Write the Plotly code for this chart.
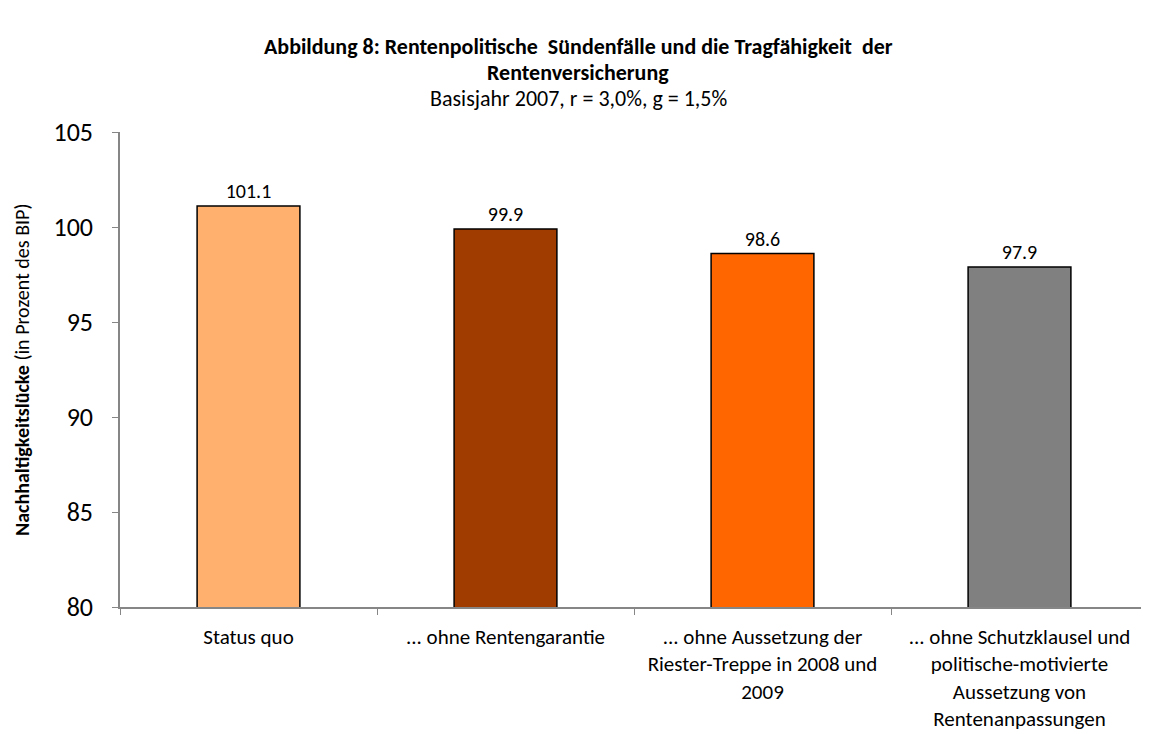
import plotly.graph_objects as go

categories = [
    "Status quo",
    "... ohne Rentengarantie",
    "... ohne Aussetzung der<br>Riester-Treppe in 2008 und<br>2009",
    "... ohne Schutzklausel und<br>politische-motivierte<br>Aussetzung von<br>Rentenanpassungen",
]
values = [101.1, 99.9, 98.6, 97.9]
labels = ["101.1", "99.9", "98.6", "97.9"]
colors = ["#FFB06E", "#A03C00", "#FF6600", "#808080"]
y_ticks = [80, 85, 90, 95, 100, 105]

FONT = "Carlito, Lato, sans-serif"

# page has an 8px body margin; figure sized to fit the window
OFF = 8
W, H = 1149 - OFF, 734 - OFF
L, R, T, B = 120 - OFF, 1, 132 - OFF, 127
PW, PH = W - L - R, H - T - B


def px(xpage):
    return (xpage - OFF - L) / PW


def py(ypage):
    return 1 - (ypage - OFF - T) / PH


fig = go.Figure()
fig.add_trace(go.Bar(
    x=categories,
    y=values,
    base=0,
    marker=dict(color=colors, line=dict(color="#000000", width=1.5)),
    width=0.4,
    text=labels,
    textposition="outside",
    textfont=dict(size=20, color="#000000", family=FONT),
    cliponaxis=False,
))

fig.update_layout(
    width=W, height=H,
    margin=dict(l=L, r=R, t=T, b=B),
    plot_bgcolor="white", paper_bgcolor="white",
    showlegend=False,
    font=dict(family=FONT, color="#000000"),
    xaxis=dict(
        showline=True, linecolor="#868686", linewidth=1.5,
        ticks="outside", tickson="boundaries", ticklen=6, tickcolor="#868686",
        tickfont=dict(size=21, family=FONT),
        ticklabelstandoff=10,
        showgrid=False,
    ),
    yaxis=dict(
        range=[80, 105], tickvals=y_ticks,
        showline=True, linecolor="#868686", linewidth=1.5,
        ticks="outside", ticklen=6, tickcolor="#868686",
        tickfont=dict(size=26, family=FONT),
        ticklabelstandoff=14,
        showgrid=False, zeroline=False,
    ),
    annotations=[
        dict(text="<b>Abbildung 8: Rentenpolitische  Sündenfälle und die Tragfähigkeit  der</b>",
             xref="paper", yref="paper", x=px(578), y=py(46),
             xanchor="center", yanchor="middle", showarrow=False, font=dict(size=22, family=FONT)),
        dict(text="<b>Rentenversicherung</b>",
             xref="paper", yref="paper", x=px(578), y=py(72),
             xanchor="center", yanchor="middle", showarrow=False, font=dict(size=22, family=FONT)),
        dict(text="Basisjahr 2007, r = 3,0%, g = 1,5%",
             xref="paper", yref="paper", x=px(578), y=py(98),
             xanchor="center", yanchor="middle", showarrow=False, font=dict(size=22, family=FONT)),
        dict(text="<b>Nachhaltigkeitslücke</b> (in Prozent des BIP)",
             xref="paper", yref="paper", x=px(22), y=py(370),
             xanchor="center", yanchor="middle", textangle=-90, showarrow=False,
             font=dict(size=20, family=FONT)),
    ],
)

fig.write_html("out.html")
